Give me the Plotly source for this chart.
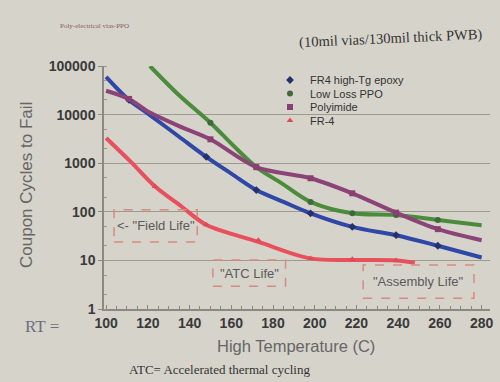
import plotly.graph_objects as go

# ---- data ----
# FR-4 high-Tg epoxy (blue)
hitg_curve_t = [100, 111, 121, 135, 148, 160, 172, 185, 198, 218, 239, 259, 280]
hitg_curve_n = [60000, 20000, 9800, 3500, 1350, 610, 280, 160, 93, 49, 33, 20, 11.5]
hitg_pts_t = [111, 148, 172, 198, 218, 239, 259]
hitg_pts_n = [20000, 1350, 280, 93, 49, 33, 20]

# Low Loss PPO (green)
ppo_curve_t = [121, 135, 150, 161, 172, 184, 198, 218, 239, 259, 280]
ppo_curve_n = [100000, 25000, 6800, 2300, 830, 390, 160, 93, 86, 68, 53]
ppo_pts_t = [150, 172, 198, 218, 239, 259]
ppo_pts_n = [6800, 830, 160, 93, 86, 68]

# Polyimide (purple)
pi_curve_t = [100, 111, 121, 135, 150, 172, 198, 218, 239, 259, 280]
pi_curve_n = [31000, 21000, 11000, 5800, 3100, 830, 490, 240, 96, 44, 26]
pi_pts_t = [111, 150, 172, 198, 218, 239, 259]
pi_pts_n = [21000, 3100, 830, 490, 240, 96, 44]

# FR-4 (red)
fr4_curve_t = [100, 112, 123.5, 136, 148, 173, 198, 218, 239, 248]
fr4_curve_n = [3300, 1050, 330, 130, 54, 24, 11, 10.2, 10, 9]
fr4_pts_t = [123.5, 148, 173, 198, 218, 239]
fr4_pts_n = [330, 54, 26, 11, 10.5, 10]

x_ticks = [100, 120, 140, 160, 180, 200, 220, 240, 260, 280]
y_ticks = [1, 10, 100, 1000, 10000, 100000]
y_tick_text = ["1", "10", "100", "1000", "10000", "100000"]

series = [
    ("FR4 high-Tg epoxy", hitg_curve_t, hitg_curve_n, hitg_pts_t, hitg_pts_n, "#2f47a6", "#27306a", "diamond"),
    ("Low Loss PPO", ppo_curve_t, ppo_curve_n, ppo_pts_t, ppo_pts_n, "#4b8c3c", "#3f6a3a", "circle"),
    ("Polyimide", pi_curve_t, pi_curve_n, pi_pts_t, pi_pts_n, "#8c4478", "#8a3f73", "square"),
    ("FR-4", fr4_curve_t, fr4_curve_n, fr4_pts_t, fr4_pts_n, "#e8505e", "#e04a55", "triangle-up"),
]

W, H = 500, 382
L, R, T, B = 104, 10, 66, 73
pw, ph = W - L - R, H - T - B

def px2paper(x, y):
    return (x - L) / pw, 1 - (y - T) / ph

bg = "#d6d3ca"
fig = go.Figure()
for name, ct, cn, pt, pn, lc, mc, sym in series:
    fig.add_trace(go.Scatter(x=ct, y=cn, mode="lines", line=dict(color=lc, width=4, shape="spline", smoothing=0.9),
                             showlegend=False, hoverinfo="skip"))

legend_rows = [80, 93.5, 107, 120.5]
legend_names = ["legend", "legend2", "legend3", "legend4"]
for i, (name, ct, cn, pt, pn, lc, mc, sym) in enumerate(series):
    fig.add_trace(go.Scatter(x=pt, y=pn, mode="markers", name=name, legend=legend_names[i],
                             marker=dict(symbol=sym, size=6, color=mc)))

leg_layout = {}
for i, ln in enumerate(legend_names):
    lx, ly = px2paper(270, legend_rows[i])
    leg_layout[ln] = dict(x=lx, y=ly, xanchor="left", yanchor="middle", bgcolor="rgba(0,0,0,0)",
                          font=dict(size=11, color="#333333", family="Liberation Sans, Arial"),
                          itemwidth=30)

box_col = "#d98a80"
boxes = [
    (103.8, 143.7, 1.38, 2.04, '<- "Field Life"'),
    (151.2, 186.0, 0.47, 1.01, '"ATC Life"'),
    (223.2, 276.3, 0.22, 0.905, '"Assembly Life"'),
]
for x0, x1, y0, y1, txt in boxes:
    fig.add_shape(type="rect", xref="x", yref="y", x0=x0, x1=x1, y0=10 ** y0, y1=10 ** y1,
                  line=dict(color=box_col, width=1.5, dash="dash"))
    fig.add_annotation(x=(x0 + x1) / 2, y=(y0 + y1) / 2, xref="x", yref="y", text=txt, showarrow=False,
                       font=dict(family="Liberation Sans, Arial", size=13, color="#5a5a5a"))

serif = "Liberation Serif, Times New Roman, serif"
sans = "Liberation Sans, Arial"
anns = [
    dict(x=390, y=38, text="(10mil vias/130mil thick PWB)", size=14.5, color="#333333", font=serif, angle=-2.6),
    dict(x=94, y=26, text="Poly-electrical vias-PPO", size=7, color="#8a5a60", font=serif, angle=0),
    dict(x=42, y=326, text="RT =", size=17, color="#6b7080", font=serif, angle=0),
    dict(x=219, y=369, text="ATC= Accelerated thermal cycling", size=13, color="#333333", font=serif, angle=0),
    dict(x=296, y=346, text="High Temperature (C)", size=16.5, color="#666666", font=sans, angle=0),
    dict(x=26, y=185, text="Coupon Cycles to Fail", size=17, color="#666666", font=sans, angle=-90),
]
for a in anns:
    ax, ay = px2paper(a["x"], a["y"])
    fig.add_annotation(x=ax, y=ay, xref="paper", yref="paper", text=a["text"],
                       showarrow=False, textangle=a["angle"], xanchor="center", yanchor="middle",
                       font=dict(family=a["font"], size=a["size"], color=a["color"]))

fig.update_layout(
    width=W, height=H,
    margin=dict(l=L, r=R, t=T, b=B, autoexpand=False),
    paper_bgcolor=bg, plot_bgcolor=bg,
    font=dict(family=sans, color="#333333"),
    xaxis=dict(range=[99, 284], tickvals=x_ticks, showgrid=False, showline=True, linecolor="#8a8a80",
               linewidth=1.5, ticks="inside", ticklen=4, tickcolor="#8a8a80",
               minor=dict(dtick=5, ticks="inside", ticklen=3, tickcolor="#8a8a80"),
               tickfont=dict(size=14, color="#3a3a3a", family=sans, weight="bold"),
               zeroline=False),
    yaxis=dict(type="log", range=[0, 5], tickvals=y_ticks, ticktext=y_tick_text, showgrid=True,
               gridcolor="#9d9a90", gridwidth=1, showline=True, linecolor="#8a8a80", linewidth=1.5,
               ticks="outside", ticklen=4, tickcolor="#8a8a80",
               minor=dict(ticks="inside", ticklen=3, tickcolor="#9a9a90", showgrid=False),
               tickfont=dict(size=14, color="#3a3a3a", family=sans, weight="bold")),
    **leg_layout,
)
fig.write_html("out.html", config={"displayModeBar": False},
               post_script="document.body.style.margin='0';document.body.style.background='%s';" % bg)
